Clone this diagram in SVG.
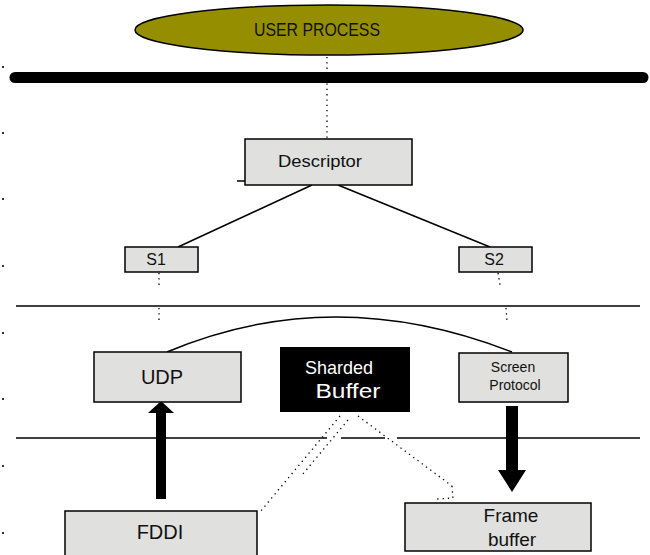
<svg xmlns="http://www.w3.org/2000/svg" width="650" height="555" viewBox="0 0 650 555">
<style>
.box{fill:#e0e0de;stroke:#000;stroke-width:1.5}
.t{font-family:"Liberation Sans","DejaVu Sans",sans-serif;fill:#111;text-anchor:middle}
.w{fill:#fff}
.dot{fill:none;stroke:#000;stroke-width:1.3;stroke-dasharray:1.3 4}
.ln{fill:none;stroke:#000;stroke-width:1.5}
.sep{stroke:#000;stroke-width:1.5}
</style>
<rect width="650" height="555" fill="#fff"/>
<g id="margin-dots" fill="#333">
<rect x="2" y="66" width="2" height="2"/><rect x="2" y="132" width="2" height="2"/><rect x="2" y="198" width="2" height="2"/><rect x="2" y="265" width="2" height="2"/><rect x="2" y="332" width="2" height="2"/><rect x="2" y="398" width="2" height="2"/><rect x="2" y="465" width="2" height="2"/><rect x="2" y="532" width="2" height="2"/>
</g>
<g id="separators">
<line x1="15" y1="77.5" x2="643" y2="77.5" stroke="#000" stroke-width="11" stroke-linecap="round"/>
<line class="sep" x1="16" y1="306" x2="640" y2="306"/>
<line class="sep" x1="16" y1="438" x2="327" y2="438"/>
<line class="sep" x1="341" y1="438" x2="385" y2="438"/>
<line class="sep" x1="397" y1="438" x2="640" y2="438"/>
</g>
<g id="connectors">
<line class="dot" x1="327" y1="57" x2="327" y2="138"/>
<line class="ln" x1="312" y1="185" x2="178" y2="247"/>
<line class="ln" x1="338" y1="185" x2="490" y2="247"/>
<line class="ln" x1="237" y1="181" x2="245" y2="181"/>
<line class="dot" x1="159" y1="273" x2="159" y2="285"/>
<line class="dot" x1="498" y1="273" x2="500" y2="285"/>
<line class="dot" x1="159" y1="308" x2="159" y2="321"/>
<line class="dot" x1="506" y1="308" x2="507" y2="321"/>
<path class="ln" stroke-width="1.2" d="M167,352 Q333,282 512,352"/>
<line class="dot" x1="340" y1="416" x2="260" y2="512"/>
<line class="dot" x1="348" y1="420" x2="302" y2="475"/>
<line class="dot" x1="358" y1="416" x2="452" y2="486"/>
<path class="dot" d="M452,486 L453,498 L437,499"/>
<g id="arrow-up">
<rect x="156" y="412" width="10" height="87" fill="#000"/>
<polygon points="148,413 174,413 161,401" fill="#000"/>
</g>
<g id="arrow-down">
<rect x="506" y="406" width="12" height="66" fill="#000"/>
<polygon points="498,470 526,470 512,492" fill="#000"/>
</g>
</g>
<g id="user-process">
<ellipse cx="329" cy="30" rx="194" ry="25" fill="#958f00" stroke="#000" stroke-width="1.5"/>
<text class="t" x="317" y="36" font-size="18" textLength="126" lengthAdjust="spacingAndGlyphs">USER PROCESS</text>
</g>
<g id="descriptor">
<rect class="box" x="245" y="139" width="167" height="46"/>
<text class="t" x="320" y="167" font-size="17" textLength="84" lengthAdjust="spacingAndGlyphs">Descriptor</text>
</g>
<g id="s1">
<rect class="box" x="125" y="247" width="73" height="25"/>
<text class="t" x="156" y="265" font-size="16">S1</text>
</g>
<g id="s2">
<rect class="box" x="459" y="247" width="73" height="25"/>
<text class="t" x="494" y="265" font-size="16">S2</text>
</g>
<g id="udp">
<rect class="box" x="94" y="352" width="147" height="50"/>
<text class="t" x="162" y="384" font-size="20">UDP</text>
</g>
<g id="sharded-buffer">
<rect x="280" y="347" width="130" height="65" fill="#000"/>
<text class="t w" x="339" y="374" font-size="19" textLength="68" lengthAdjust="spacingAndGlyphs">Sharded</text>
<text class="t w" x="348" y="398" font-size="20" textLength="65" lengthAdjust="spacingAndGlyphs">Buffer</text>
</g>
<g id="screen-protocol">
<rect class="box" x="459" y="353" width="109" height="49"/>
<text class="t" x="513" y="372" font-size="14">Screen</text>
<text class="t" x="515" y="390" font-size="14">Protocol</text>
</g>
<g id="fddi">
<rect class="box" x="65" y="511" width="192" height="50"/>
<text class="t" x="160" y="539" font-size="20">FDDI</text>
</g>
<g id="frame-buffer">
<rect class="box" x="405" y="503" width="186" height="48"/>
<text class="t" x="511" y="522" font-size="19">Frame</text>
<text class="t" x="512" y="546" font-size="19">buffer</text>
</g>
</svg>
